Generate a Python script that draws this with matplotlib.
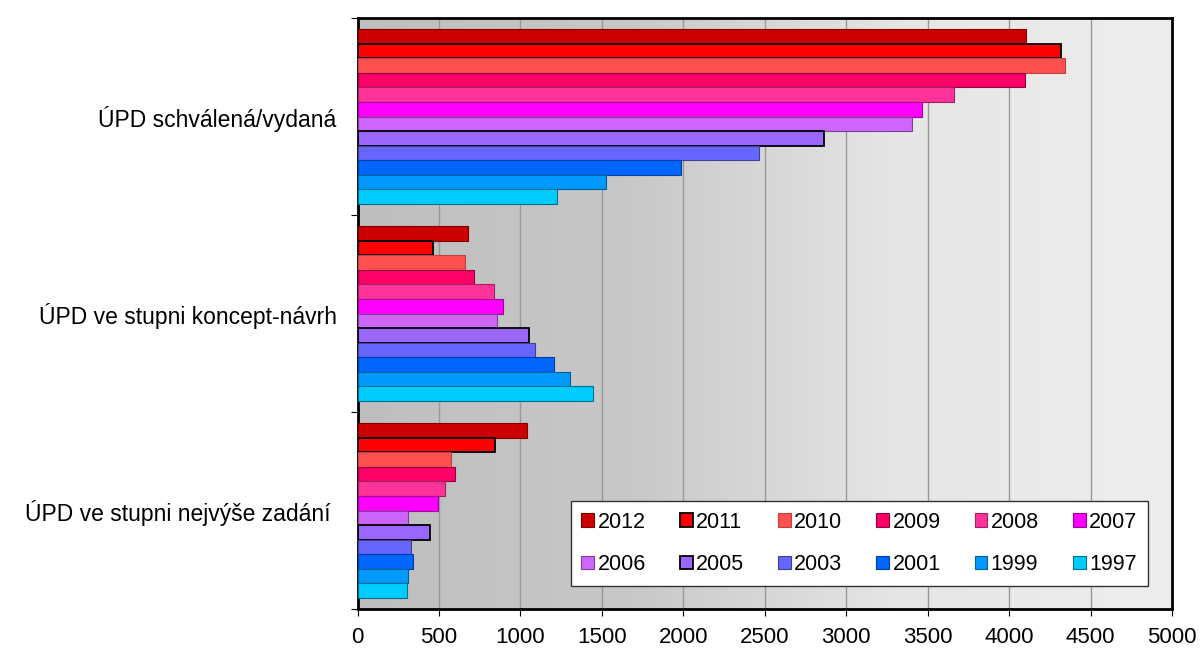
import matplotlib
matplotlib.use('Agg')
import matplotlib.pyplot as plt
from matplotlib.colors import LinearSegmentedColormap
import numpy as np

plt.rcParams['font.family'] = ['Liberation Sans', 'DejaVu Sans']

categories = ['ÚPD schválená/vydaná', 'ÚPD ve stupni koncept-návrh', 'ÚPD ve stupni nejvýše zadání ']
years = ['2012', '2011', '2010', '2009', '2008', '2007',
         '2006', '2005', '2003', '2001', '1999', '1997']

# values per year: [schválená/vydaná, koncept-návrh, nejvýše zadání]
v2012 = [4105, 679, 1043]
v2011 = [4320, 466, 843]
v2010 = [4345, 658, 575]
v2009 = [4098, 714, 597]
v2008 = [3663, 835, 538]
v2007 = [3466, 892, 495]
v2006 = [3405, 855, 309]
v2005 = [2866, 1051, 446]
v2003 = [2466, 1088, 327]
v2001 = [1988, 1205, 341]
v1999 = [1526, 1305, 309]
v1997 = [1227, 1446, 303]
values = [v2012, v2011, v2010, v2009, v2008, v2007,
          v2006, v2005, v2003, v2001, v1999, v1997]

colors = ['#CC0000', '#FF0000', '#FF5050', '#FF0066', '#FF3399', '#FF00FF',
          '#CC66FF', '#9966FF', '#6666FF', '#0066FF', '#0099FF', '#00CCFF']
edges = ['#800000', '#000000', '#c04040', '#900040', '#a02060', '#a000a0',
         '#804090', '#000000', '#404090', '#0040a0', '#006090', '#007090']
lws = [0.8, 1.3, 0.8, 0.8, 0.8, 0.8, 0.8, 1.3, 0.8, 0.8, 0.8, 0.8]

fig = plt.figure(figsize=(12.04, 6.49), dpi=100)
ax = fig.add_axes([357.5 / 1204, 1 - 609 / 649, (1172 - 357.5) / 1204, (609 - 18) / 649])

# gradient background
grad = np.linspace(0, 1, 256).reshape(1, -1)
cmap = LinearSegmentedColormap.from_list('bg', ['#bebebe', '#c8c8c8', '#e6e6e6', '#eeeeee'])
ax.imshow(grad, cmap=cmap, aspect='auto', extent=[0, 5000, 3, 0], zorder=0)

n = len(years)
bar_h = 0.074
start = 0.5 - bar_h * n / 2
for i, (yr, vals) in enumerate(zip(years, values)):
    ys = np.arange(len(categories)) + start + bar_h * (i + 0.5)
    ax.barh(ys, vals, height=bar_h, color=colors[i], edgecolor=edges[i],
            linewidth=lws[i], label=yr, zorder=3)

ax.set_xlim(0, 5000)
ax.set_ylim(3, 0)
ax.set_xticks(np.arange(0, 5001, 500))
ax.xaxis.grid(True, color='#999999', linewidth=1.0, zorder=1)
ax.set_axisbelow(True)
ax.set_yticks([0, 1, 2, 3])
ax.set_yticklabels([])
ax.set_yticks([0.5, 1.5, 2.5], minor=True)
ax.set_yticklabels(categories, minor=True)
ax.tick_params(axis='y', which='minor', length=0, pad=15, labelsize=16.5)
ax.tick_params(axis='y', which='major', length=5, direction='out')
ax.tick_params(axis='x', length=5, direction='out', labelsize=16, pad=8)
for s in ax.spines.values():
    s.set_linewidth(2.0)
    s.set_color('black')

h, l = ax.get_legend_handles_labels()
order = []
for j in range(6):
    order += [j, j + 6]
leg = ax.legend([h[k] for k in order], [l[k] for k in order], ncol=6,
                loc='lower right', bbox_to_anchor=(0.9705, 0.039), borderaxespad=0,
                fontsize=15.5, frameon=True, fancybox=False, edgecolor='#333333',
                framealpha=1.0, handlelength=0.6, handleheight=0.6, handletextpad=0.15,
                columnspacing=1.58, labelspacing=1.0, borderpad=0.5)
leg.get_frame().set_linewidth(1.0)
leg.set_zorder(5)

fig.savefig('out.png', dpi=100)
